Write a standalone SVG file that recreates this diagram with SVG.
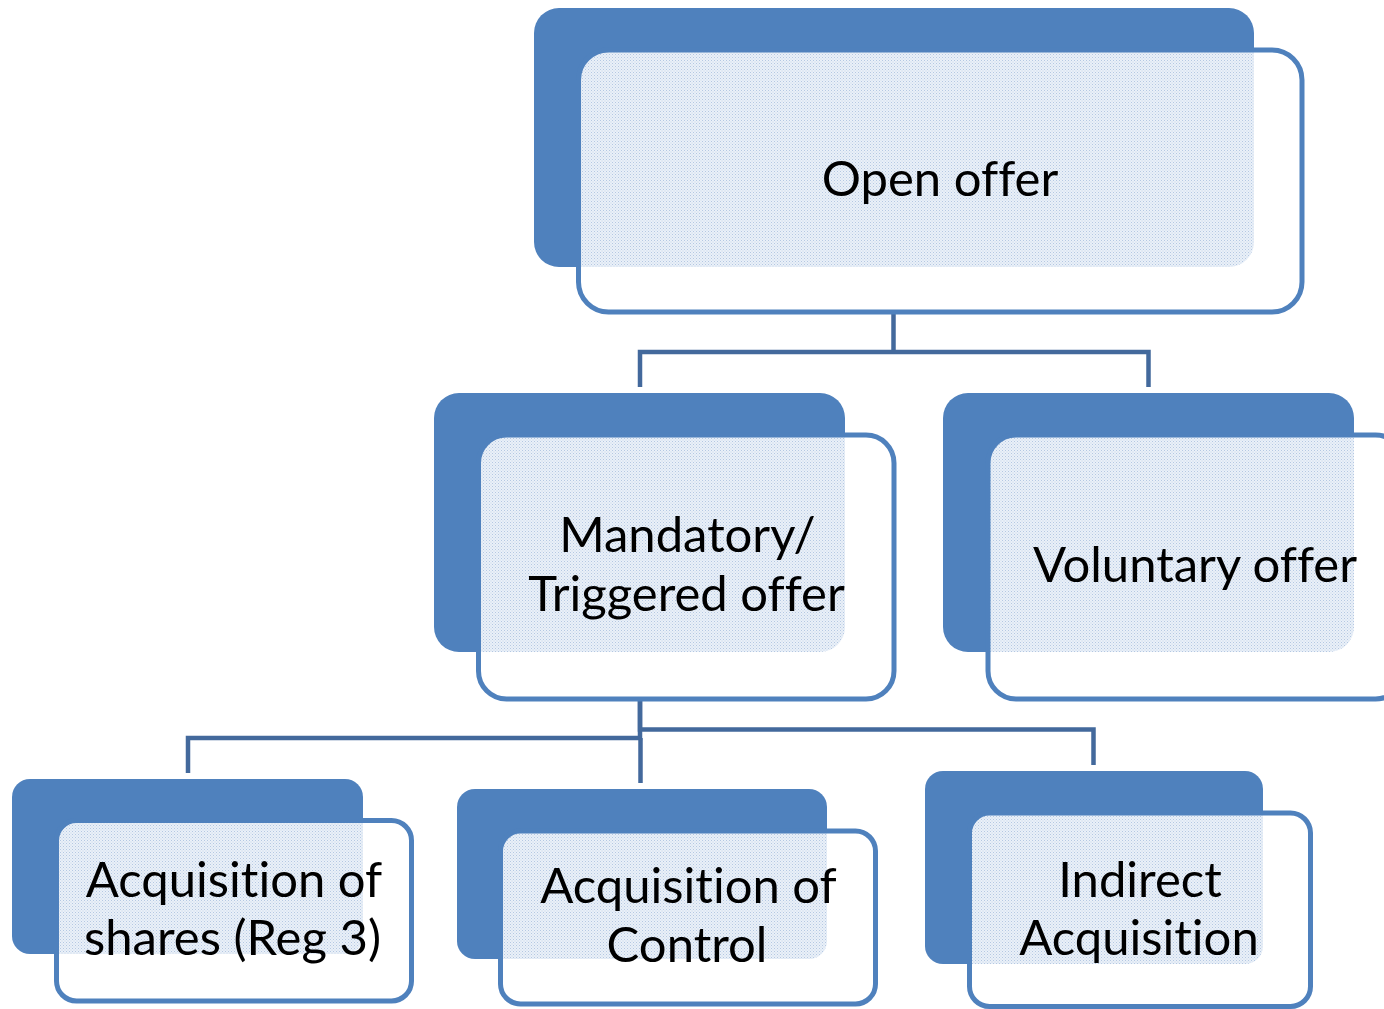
<svg xmlns="http://www.w3.org/2000/svg" width="1384" height="1009" viewBox="0 0 1384 1009">
<style>
.back{fill:#4f81bd}
.fw{fill:#ffffff}
.fs{fill:none;stroke:#4f81bd;stroke-width:5}
.ov{fill:url(#dots)}
.lbl{font-family:Lato,"Open Sans","Liberation Sans",sans-serif;font-size:49px;fill:#000000;text-anchor:middle;font-variant-ligatures:none}
.con{fill:none;stroke:#43699c;stroke-width:4.5;stroke-linejoin:miter}
.faint{fill:none;stroke:#cfdcec;stroke-width:3}
</style>
<defs>
<pattern id="dots" width="3" height="3" patternUnits="userSpaceOnUse">
<rect width="3" height="3" fill="#eaf0f8"/>
<rect x="0" y="0" width="1" height="1" fill="#b4c8e2"/>
<rect x="1.5" y="1.5" width="1" height="1" fill="#c3d4ea"/>
</pattern>
<clipPath id="c-open"><rect x="578.5" y="50" width="723.5" height="262" rx="30"/></clipPath>
<clipPath id="c-mand"><rect x="478.5" y="435" width="415.5" height="264" rx="28"/></clipPath>
<clipPath id="c-vol"><rect x="988" y="435" width="415.5" height="264" rx="28"/></clipPath>
<clipPath id="c-shares"><rect x="56.5" y="820.5" width="355" height="180.5" rx="20"/></clipPath>
<clipPath id="c-control"><rect x="500.5" y="831" width="375" height="173" rx="20"/></clipPath>
<clipPath id="c-indirect"><rect x="969.5" y="813" width="341" height="193.5" rx="20"/></clipPath>
</defs>

<g id="connectors">
<path class="faint" d="M893.5 268 V310"/>
<path class="faint" d="M640 653 V697"/>
<path class="con" d="M893.5 314 V352"/>
<path class="con" d="M640 387 V352 H1148.5 V387"/>
<path class="con" d="M640 701 V738 H188 V773"/>
<path class="con" d="M640 701 V729.5 H1093.5 V765"/>
<path class="con" d="M640.5 738 V783"/>
</g>

<g id="node-open-offer">
<rect class="back" x="534" y="8" width="720" height="259" rx="25"/>
<rect class="fw" x="578.5" y="50" width="723.5" height="262" rx="30"/>
<rect class="ov" x="534" y="8" width="720" height="259" rx="25" clip-path="url(#c-open)"/>
<rect class="fs" x="578.5" y="50" width="723.5" height="262" rx="30"/>
<text class="lbl" x="940" y="196">Open offer</text>
</g>

<g id="node-mandatory">
<rect class="back" x="434" y="393" width="411" height="259" rx="25"/>
<rect class="fw" x="478.5" y="435" width="415.5" height="264" rx="28"/>
<rect class="ov" x="434" y="393" width="411" height="259" rx="25" clip-path="url(#c-mand)"/>
<rect class="fs" x="478.5" y="435" width="415.5" height="264" rx="28"/>
<text class="lbl" x="687.5" y="552">Mandatory/</text>
<text class="lbl" x="686.5" y="611">Triggered offer</text>
</g>

<g id="node-voluntary">
<rect class="back" x="943" y="393" width="411" height="259" rx="25"/>
<rect class="fw" x="988" y="435" width="415.5" height="264" rx="28"/>
<rect class="ov" x="943" y="393" width="411" height="259" rx="25" clip-path="url(#c-vol)"/>
<rect class="fs" x="988" y="435" width="415.5" height="264" rx="28"/>
<text class="lbl" x="1195" y="582">Voluntary offer</text>
</g>

<g id="node-shares">
<rect class="back" x="12" y="779" width="351" height="175" rx="18"/>
<rect class="fw" x="56.5" y="820.5" width="355" height="180.5" rx="20"/>
<rect class="ov" x="12" y="779" width="351" height="175" rx="18" clip-path="url(#c-shares)"/>
<rect class="fs" x="56.5" y="820.5" width="355" height="180.5" rx="20"/>
<text class="lbl" x="234" y="897">Acquisition of</text>
<text class="lbl" x="232.5" y="955">shares (Reg 3)</text>
</g>

<g id="node-control">
<rect class="back" x="457" y="789" width="370" height="170" rx="18"/>
<rect class="fw" x="500.5" y="831" width="375" height="173" rx="20"/>
<rect class="ov" x="457" y="789" width="370" height="170" rx="18" clip-path="url(#c-control)"/>
<rect class="fs" x="500.5" y="831" width="375" height="173" rx="20"/>
<text class="lbl" x="688.5" y="903">Acquisition of</text>
<text class="lbl" x="687" y="962">Control</text>
</g>

<g id="node-indirect">
<rect class="back" x="925" y="771" width="338" height="193" rx="18"/>
<rect class="fw" x="969.5" y="813" width="341" height="193.5" rx="20"/>
<rect class="ov" x="925" y="771" width="338" height="193" rx="18" clip-path="url(#c-indirect)"/>
<rect class="fs" x="969.5" y="813" width="341" height="193.5" rx="20"/>
<text class="lbl" x="1140" y="897">Indirect</text>
<text class="lbl" x="1139" y="955">Acquisition</text>
</g>
</svg>
